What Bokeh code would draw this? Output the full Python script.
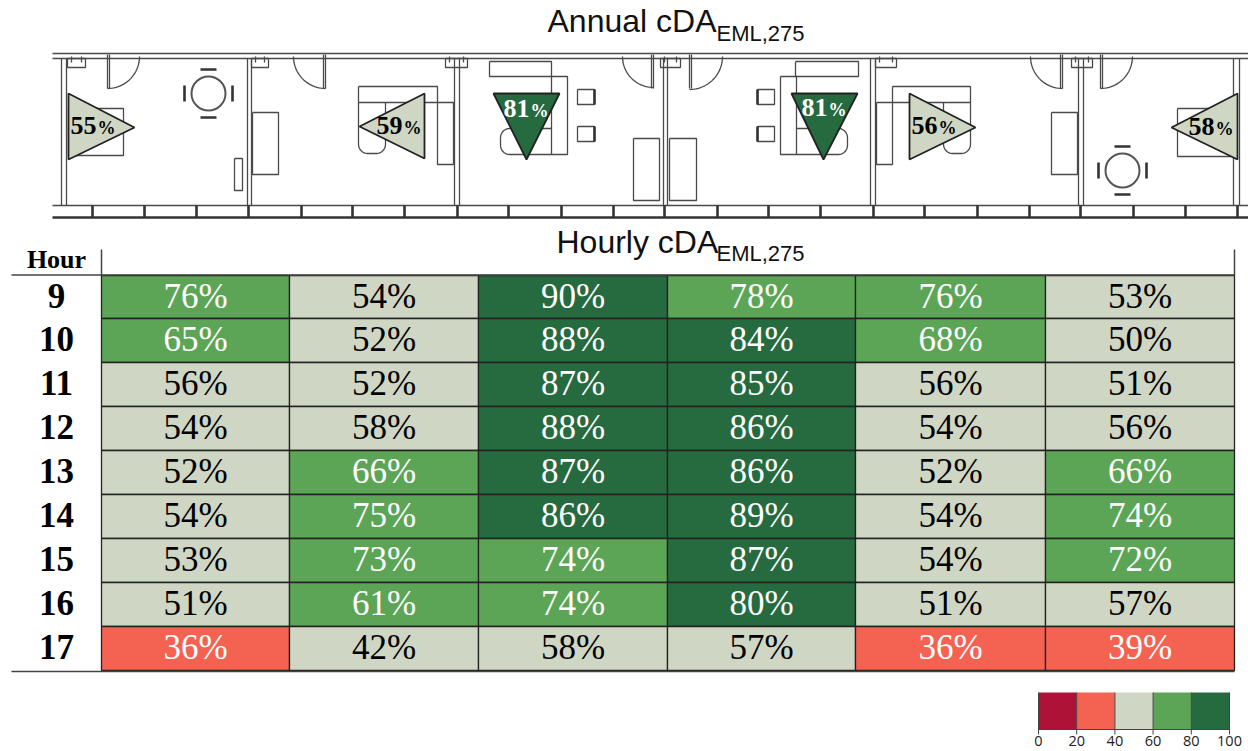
import numpy as np
from bokeh.plotting import figure
from bokeh.embed import file_html
from bokeh.resources import INLINE
from bokeh.core.properties import value
from bokeh.models import Range1d

# ---- data ----
hours = [9, 10, 11, 12, 13, 14, 15, 16, 17]
room1 = [76, 65, 56, 54, 52, 54, 53, 51, 36]
room2 = [54, 52, 52, 58, 66, 75, 73, 61, 42]
room3 = [90, 88, 87, 88, 87, 86, 74, 74, 58]
room4 = [78, 84, 85, 86, 86, 89, 87, 80, 57]
room5 = [76, 68, 56, 54, 52, 54, 54, 51, 36]
room6 = [53, 50, 51, 56, 66, 74, 72, 57, 39]
annual = [55, 59, 81, 81, 56, 58]
palette = ["#AE1237", "#F46352", "#CFD6C4", "#5CA556", "#266A3F"]
bin_edges = [0, 20, 40, 60, 80, 100]

def colour(v):
    return palette[min(int(v // 20), 4)]
def ink(v):
    return "black" if 40 <= v < 60 else "white"

p = figure(width=1248, height=751, output_backend="svg", toolbar_location=None,
           x_range=Range1d(0, 1248), y_range=Range1d(751, 0),
           min_border=0, min_border_left=0, min_border_right=0, min_border_top=0, min_border_bottom=0)
p.axis.visible = False
p.grid.visible = False
p.outline_line_color = None
p.background_fill_color = "white"

WALL = "#4a4a4a"
xs_l, ys_l = [], []
def seg(x0, y0, x1, y1):
    xs_l.append([x0, x1]); ys_l.append([y0, y1])
def box(x0, y0, x1, y1):
    xs_l.append([x0, x1, x1, x0, x0]); ys_l.append([y0, y0, y1, y1, y0])
def corner(cx, cy, r, a0):
    t = np.radians(a0) + np.linspace(0, np.pi / 2, 6)
    return list(cx + r * np.cos(t)), list(cy + r * np.sin(t))

# ---- floor plan ----
seg(52, 53, 1248, 53); seg(52, 58, 1248, 58); seg(52, 205, 1248, 205)
walls = [(61, 66), (247, 251), (454, 459), (663, 667), (870, 875), (1078, 1083), (1233, 1239)]
for a, b in walls:
    seg(a, 58, a, 205); seg(b, 58, b, 205)
for a, b in [(67, 85), (251, 268), (445, 467), (660, 680), (875, 896), (1071, 1092)]:
    box(a, 58, b, 67)
    seg(a + 4, 56, a + 4, 62); seg(b - 4, 56, b - 4, 62)
for leaf, tip in [(107, 139), (325, 293), (653, 622), (689, 722), (1062, 1030), (1100, 1132)]:
    seg(leaf, 54, leaf, 88)
    seg(leaf + (2 if tip > leaf else -2), 54, leaf + (2 if tip > leaf else -2), 88)
    t = np.linspace(0, np.pi / 2, 24)
    r = abs(tip - leaf)
    xs_l.append(list(leaf + np.sign(tip - leaf) * r * np.sin(t)))
    ys_l.append(list(56 + r * np.cos(t)))
for r in [(68, 108, 123, 155), (234, 158, 242, 190), (252, 112, 278, 174), (358, 86, 437, 102),
          (437, 102, 453, 164), (489, 61, 551, 76), (551, 76, 567, 154), (577, 89, 594, 104),
          (577, 126, 594, 141), (633, 138, 659, 200), (669, 138, 696, 200), (757, 89, 774, 104),
          (757, 126, 774, 141), (795, 61, 858, 76), (780, 76, 796, 154), (892, 86, 970, 102),
          (876, 102, 892, 164), (1051, 112, 1077, 174), (1177, 108, 1235, 156)]:
    box(*r)
# task chairs with rounded corners
RND = 9
for l, tp, rt, bt in [(358, 102, 385, 153), (943, 102, 970, 153)]:
    ax, ay = corner(l + RND, bt - RND, RND, 90)
    bx, by = corner(rt - RND, bt - RND, RND, 0)
    xs_l.append([l] + ax[::-1] + bx[::-1] + [rt])
    ys_l.append([tp] + ay[::-1] + by[::-1] + [tp])
ax, ay = corner(500 + RND, 128 + RND, RND, 180)
bx, by = corner(500 + RND, 154 - RND, RND, 90)
xs_l.append([551] + ax[::-1] + bx[::-1] + [551]); ys_l.append([128] + ay[::-1] + by[::-1] + [154])
ax, ay = corner(847 - RND, 128 + RND, RND, 270)
bx, by = corner(847 - RND, 154 - RND, RND, 0)
xs_l.append([796] + ax + bx + [796]); ys_l.append([128] + ay + by + [154])
p.multi_line(xs_l, ys_l, line_color=WALL, line_width=1.3)

hx, hy = [[52, 1248]], [[217, 217]]
for m in [92, 144, 196, 248, 301, 352, 404, 457, 508, 561, 613, 664, 717, 768, 820, 873, 924, 977, 1029, 1080, 1133, 1185, 1237]:
    hx.append([m, m]); hy.append([205, 217])
for cx, cy in [(208, 93), (1122, 170)]:
    hx += [[cx - 8, cx + 8], [cx - 8, cx + 8], [cx - 24, cx - 24], [cx + 24, cx + 24]]
    hy += [[cy - 24, cy - 24], [cy + 24, cy + 24], [cy - 8, cy + 8], [cy - 8, cy + 8]]
for x, y0, y1 in [(594, 89, 104), (594, 126, 141), (757, 89, 104), (757, 126, 141)]:
    hx.append([x, x]); hy.append([y0, y1])
p.multi_line(hx, hy, line_color="#333333", line_width=2.6)
p.circle([208, 1122], [93, 170], radius=17, fill_color="white", line_color="#555555", line_width=2)

def btext(xs, base, labels, size, font, colors, align="left", style="normal"):
    """Text given by baseline; 'middle' sits about 0.35 em above the baseline."""
    p.text(xs, [b - 0.35 * size for b in base], text=labels, text_color=colors, text_font=value(font),
           text_font_style=style, text_font_size=f"{size}px", text_baseline="middle", text_align=align)

tri_x = [[68, 68, 134], [424, 424, 359], [493, 559, 526], [791, 857, 823], [909, 909, 975], [1237, 1237, 1171]]
tri_y = [[93, 159, 127], [93, 158, 126], [93, 93, 159], [93, 93, 159], [93, 159, 127], [93, 159, 127]]
p.patches(tri_x, tri_y, fill_color=[colour(v) for v in annual], line_color="#222222", line_width=1.8)
num_x = [70, 376, 503, 801, 911, 1188]
num_y = [134, 134, 117, 116, 134, 135]
ann_ink = [ink(v) for v in annual]
btext(num_x, num_y, [str(v) for v in annual], 26, "Liberation Serif", ann_ink, style="bold")
btext([x + 27 for x in num_x], num_y, ["%"] * 6, 18, "Liberation Serif", ann_ink, style="bold")

btext([547], [32], ["Annual cDA"], 32, "Liberation Sans", ["#111111"])
btext([716], [41], ["EML,275"], 22, "Liberation Sans", ["#111111"])
btext([556], [253], ["Hourly cDA"], 32, "Liberation Sans", ["#111111"])
btext([716], [261], ["EML,275"], 22, "Liberation Sans", ["#111111"])

col_edges = [101, 289, 478, 667, 855, 1045, 1234]
row_edges = [275, 318, 362, 406, 450, 494, 538, 582, 626, 670]
columns = [room1, room2, room3, room4, room5, room6]
ql, qr, qt, qb, qc, tx, ty, tt, tc = [], [], [], [], [], [], [], [], []
for i, col in enumerate(columns):
    for j, v in enumerate(col):
        ql.append(col_edges[i]); qr.append(col_edges[i + 1])
        qt.append(row_edges[j]); qb.append(row_edges[j + 1])
        qc.append(colour(v))
        tx.append((col_edges[i] + col_edges[i + 1]) / 2)
        ty.append(row_edges[j] + 33)
        tt.append(f"{v}%"); tc.append(ink(v))
p.quad(left=ql, right=qr, top=qt, bottom=qb, fill_color=qc, line_color="#222222", line_width=1.3)
btext(tx, ty, tt, 35, "Liberation Serif", tc, align="center")
btext([56] * 9, [row_edges[j] + 32.5 for j in range(9)], [str(h) for h in hours], 35, "Liberation Serif",
      ["black"] * 9, align="center", style="bold")
btext([56], [268], ["Hour"], 26, "Liberation Serif", ["black"], align="center", style="bold")
p.multi_line([[11, 101], [101, 101], [101, 1234], [1234, 1234], [11, 1234]],
             [[274.5, 274.5], [249, 275], [274.5, 274.5], [249, 275], [671, 671]],
             line_color="#444444", line_width=1.5)

L0, SCALE = 1038, 1.91
p.quad(left=[L0 + SCALE * e for e in bin_edges[:-1]], right=[L0 + SCALE * e for e in bin_edges[1:]],
       top=[692] * 5, bottom=[729] * 5, fill_color=palette, line_color=None)
p.multi_line([[L0 + SCALE * e] * 2 for e in bin_edges] + [[L0, L0 + SCALE * 100]],
             [[692, 734]] * 6 + [[729, 729]], line_color="#444444", line_width=1)
btext([L0 + SCALE * e for e in bin_edges], [746] * 6, [str(e) for e in bin_edges], 14.5, "Open Sans",
      ["#222222"] * 6, align="center")

open("out.html", "w").write(file_html(p, INLINE))
